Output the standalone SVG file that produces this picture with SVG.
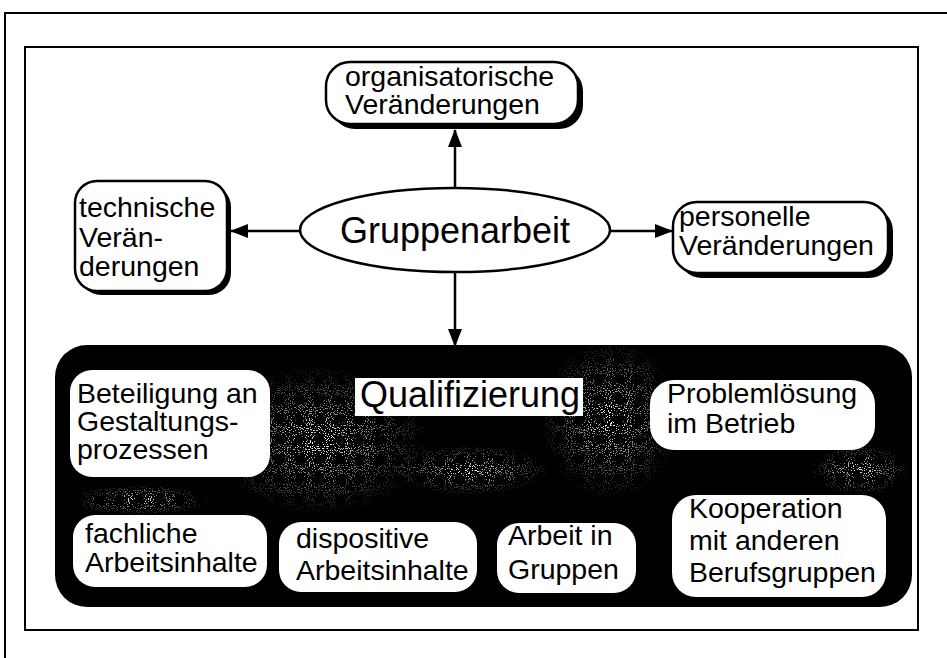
<svg xmlns="http://www.w3.org/2000/svg" width="947" height="658" viewBox="0 0 947 658">
<style>
  .t { font-family: "Liberation Sans", Arial, sans-serif; font-size: 28.5px; fill: #000; }
  .big { font-family: "Liberation Sans", Arial, sans-serif; font-size: 36px; fill: #000; }
  .box { fill: #fff; stroke: #000; stroke-width: 2.5; }
  .shadow { fill: #000; }
  .inbox { fill: #fff; }
  .conn { stroke: #000; stroke-width: 2.5; fill: none; }
  .frame { fill: none; stroke: #000; stroke-width: 2; }
</style>
<defs>
  <marker id="arr" viewBox="0 0 18 14" refX="17" refY="7" markerWidth="18" markerHeight="14" markerUnits="userSpaceOnUse" orient="auto">
    <path d="M0,0 L18,7 L0,14 Z" fill="#000"/>
  </marker>
  <filter id="speck" x="0" y="0" width="1" height="1">
    <feTurbulence type="fractalNoise" baseFrequency="0.95" numOctaves="1" seed="7" result="n"/>
    <feColorMatrix in="n" type="matrix" values="0 0 0 0 1  0 0 0 0 1  0 0 0 0 1  0 0 0 22 -13.2" result="w"/>
    <feComposite in="w" in2="SourceGraphic" operator="in"/>
  </filter>
  <radialGradient id="fade">
    <stop offset="0" stop-color="#fff" stop-opacity="1"/>
    <stop offset="1" stop-color="#fff" stop-opacity="0"/>
  </radialGradient>
</defs>
<rect width="947" height="658" fill="#fff"/>
<!-- frames -->
<path class="frame" d="M5,658 V13 H947"/>
<rect class="frame" x="25" y="47" width="893" height="583"/>

<!-- dark Qualifizierung area -->
<g id="qualifizierung">
  <rect x="55" y="345" width="857" height="262" rx="32" ry="32" fill="#000"/>
  <g filter="url(#speck)">
    <ellipse cx="320" cy="440" rx="110" ry="75" fill="url(#fade)"/>
    <ellipse cx="610" cy="420" rx="70" ry="80" fill="url(#fade)"/>
    <ellipse cx="600" cy="560" rx="40" ry="35" fill="url(#fade)"/>
    <ellipse cx="860" cy="470" rx="50" ry="25" fill="url(#fade)"/>
    <ellipse cx="140" cy="500" rx="70" ry="15" fill="url(#fade)"/>
    <ellipse cx="470" cy="470" rx="80" ry="25" fill="url(#fade)"/>
  </g>
  <rect x="355" y="378" width="228" height="38" fill="#fff"/>
  <text class="big" x="360" y="407" font-size="35">Qualifizierung</text>
</g>

<!-- connectors -->
<g id="connectors">
  <line class="conn" x1="455" y1="187" x2="455" y2="130" marker-end="url(#arr)"/>
  <line class="conn" x1="300" y1="231" x2="231" y2="231" marker-end="url(#arr)"/>
  <line class="conn" x1="610" y1="231" x2="672" y2="231" marker-end="url(#arr)"/>
  <line class="conn" x1="455" y1="273" x2="455" y2="346" marker-end="url(#arr)"/>
</g>

<g id="gruppenarbeit">
  <ellipse cx="455" cy="230" rx="155" ry="42" fill="#fff" stroke="#000" stroke-width="2.5"/>
  <text class="big" x="455" y="243" text-anchor="middle">Gruppenarbeit</text>
</g>

<g id="organisatorisch">
  <rect class="shadow" x="331" y="67" width="252" height="62" rx="24"/>
  <rect class="box" x="326" y="62" width="252" height="62" rx="24"/>
  <text class="t" x="345" y="86">organisatorische</text>
  <text class="t" x="345" y="114">Veränderungen</text>
</g>

<g id="technisch">
  <rect class="shadow" x="79" y="185" width="152" height="110" rx="22"/>
  <rect class="box" x="75" y="181" width="152" height="110" rx="22"/>
  <text class="t" x="79" y="217">technische</text>
  <text class="t" x="79" y="247">Verän-</text>
  <text class="t" x="79" y="276">derungen</text>
</g>

<g id="personell">
  <rect class="shadow" x="678" y="207" width="215" height="71" rx="24"/>
  <rect class="box" x="673" y="202" width="215" height="71" rx="24"/>
  <text class="t" x="679" y="226">personelle</text>
  <text class="t" x="679" y="255">Veränderungen</text>
</g>

<g id="beteiligung">
  <rect class="inbox" x="70" y="370" width="200" height="107" rx="22"/>
  <text class="t" x="77" y="403">Beteiligung an</text>
  <text class="t" x="77" y="431">Gestaltungs-</text>
  <text class="t" x="77" y="459">prozessen</text>
</g>

<g id="problemloesung">
  <rect class="inbox" x="650" y="380" width="225" height="70" rx="24"/>
  <text class="t" x="667" y="403">Problemlösung</text>
  <text class="t" x="667" y="433">im Betrieb</text>
</g>

<g id="fachlich">
  <rect class="inbox" x="73" y="515" width="194" height="72" rx="22"/>
  <text class="t" x="85" y="543">fachliche</text>
  <text class="t" x="85" y="572">Arbeitsinhalte</text>
</g>

<g id="dispositiv">
  <rect class="inbox" x="279" y="522" width="198" height="70" rx="22"/>
  <text class="t" x="296" y="548">dispositive</text>
  <text class="t" x="296" y="580">Arbeitsinhalte</text>
</g>

<g id="arbeit-gruppen">
  <rect class="inbox" x="497" y="523" width="139" height="70" rx="22"/>
  <text class="t" x="508" y="545">Arbeit in</text>
  <text class="t" x="508" y="579">Gruppen</text>
</g>

<g id="kooperation">
  <rect class="inbox" x="672" y="495" width="214" height="102" rx="24"/>
  <text class="t" x="689" y="518">Kooperation</text>
  <text class="t" x="689" y="550">mit anderen</text>
  <text class="t" x="689" y="582">Berufsgruppen</text>
</g>
</svg>
